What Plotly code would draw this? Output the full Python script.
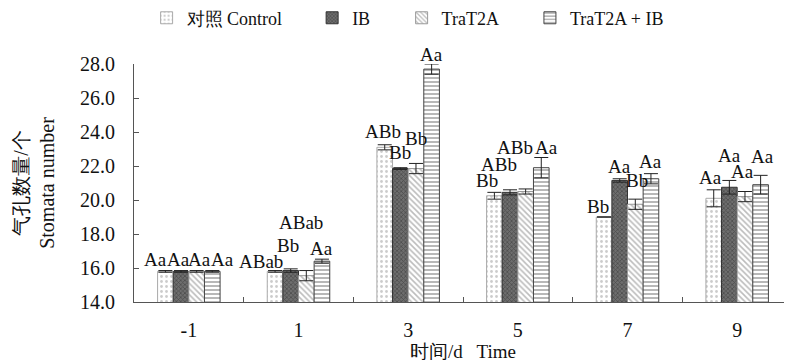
import plotly.graph_objects as go

categories = ["-1", "1", "3", "5", "7", "9"]
series_names = ["对照 Control", "IB", "TraT2A", "TraT2A + IB"]

control = [15.8, 15.8, 23.1, 20.25, 19.0, 20.1]
control_err = [0.05, 0.05, 0.15, 0.2, 0.0, 0.5]
ib = [15.8, 15.85, 21.85, 20.45, 21.15, 20.75]
ib_err = [0.05, 0.1, 0.05, 0.15, 0.1, 0.4]
trat2a = [15.8, 15.55, 21.85, 20.5, 19.75, 20.2]
trat2a_err = [0.05, 0.3, 0.3, 0.15, 0.3, 0.3]
combo = [15.8, 16.4, 27.7, 21.9, 21.25, 20.9]
combo_err = [0.05, 0.12, 0.3, 0.6, 0.3, 0.55]

labels_control = ["Aa", "ABab", "ABb", "Bb", "Bb", "Aa"]
labels_ib = ["Aa", "Bb", "Bb", "ABb", "Aa", "Aa"]
labels_trat2a = ["Aa", "ABab", "Bb", "ABb", "Bb", "Aa"]
labels_combo = ["Aa", "Aa", "Aa", "Aa", "Aa", "Aa"]

values = [control, ib, trat2a, combo]
errors = [control_err, ib_err, trat2a_err, combo_err]
labels = [labels_control, labels_ib, labels_trat2a, labels_combo]

# styles
SERIF = "Liberation Serif"
patterns = [
    dict(shape=".", fgcolor="#9a9a9a", bgcolor="white", size=5, solidity=0.25, fillmode="overlay"),
    dict(shape="x", fgcolor="#2a2a2a", bgcolor="#6e6e6e", size=3, solidity=0.45, fillmode="overlay"),
    dict(shape="\\", fgcolor="#7a7a7a", bgcolor="white", size=4, solidity=0.4, fillmode="overlay"),
    dict(shape="-", fgcolor="#333333", bgcolor="white", size=4, solidity=0.35, fillmode="overlay"),
]
line_colors = ["#aaaaaa", "#333333", "#999999", "#444444"]
legend_x = [0.175, 0.384, 0.497, 0.659]  # container fraction per legend entry

# label pixel offsets (xshift, yshift) per series per category
label_offsets = [
    [(-10, 0), (-14, -2), (-2, 2), (-7, 0), (-6, -1), (-3, 1)],
    [(-3, 0), (-3, 12), (0, 4), (-11, 14), (0, 1), (0, 13)],
    [(3, 0), (-5, 37), (0, 13), (-11, 30), (2, 7), (-2, 9)],
    [(10, 0), (0, -1), (0, -2), (5, -1), (0, 1), (2, 7)],
]

BARGAP = 0.43
bw = (1 - BARGAP) / 4
legend_ids = ["legend", "legend2", "legend3", "legend4"]

fig = go.Figure()
for j in range(4):
    fig.add_trace(go.Bar(
        x=categories, y=values[j], name=series_names[j],
        legend=legend_ids[j],
        marker=dict(color="white", pattern=patterns[j],
                    line=dict(color=line_colors[j], width=1)),
        error_y=dict(type="data", array=errors[j], color="#222222",
                     thickness=1, width=7, visible=True),
    ))

annotations = []
for j in range(4):
    for i, cat in enumerate(categories):
        xs, ys = label_offsets[j][i]
        annotations.append(dict(
            x=i + (j - 1.5) * bw, y=values[j][i] + errors[j][i],
            xref="x", yref="y", text=labels[j][i], showarrow=False,
            xanchor="center", yanchor="bottom", xshift=xs, yshift=ys - 1,
            font=dict(family=SERIF, size=19, color="#111111"),
        ))

legend_common = dict(orientation="h", xanchor="left", y=0.972, yanchor="middle",
                     xref="container", yref="container",
                     font=dict(family=SERIF, size=18, color="#111111"),
                     bgcolor="rgba(0,0,0,0)")

layout_legends = {}
for j, lid in enumerate(legend_ids):
    layout_legends[lid] = dict(legend_common, x=legend_x[j])

fig.update_layout(
    width=792, height=360,
    margin=dict(l=126, r=8, t=56, b=66, autoexpand=False),
    paper_bgcolor="white", plot_bgcolor="white",
    barmode="group", bargap=BARGAP, bargroupgap=0,
    font=dict(family=SERIF, size=18, color="#111111"),
    showlegend=True,
    annotations=annotations,
    xaxis=dict(
        type="category", showline=True, linecolor="#555555", linewidth=1,
        ticks="inside", ticklen=5, tickcolor="#555555", tickson="boundaries",
        showgrid=False, zeroline=False, ticklabelstandoff=10, automargin=False,
        tickfont=dict(family=SERIF, size=20),
        title=dict(text="时间/d   Time", font=dict(family=SERIF, size=19), standoff=4),
    ),
    yaxis=dict(
        range=[14, 28], dtick=2, tickformat=".1f", showline=True,
        linecolor="#555555", linewidth=1, ticks="inside", ticklen=5,
        tickcolor="#555555", showgrid=False, zeroline=False, automargin=False,
        ticklabelstandoff=14, tickfont=dict(family=SERIF, size=20),
        title=dict(text="气孔数量/个<br>Stomata number",
                   font=dict(family=SERIF, size=20), standoff=20),
    ),
    **layout_legends,
)

fig.write_html("out.html")
